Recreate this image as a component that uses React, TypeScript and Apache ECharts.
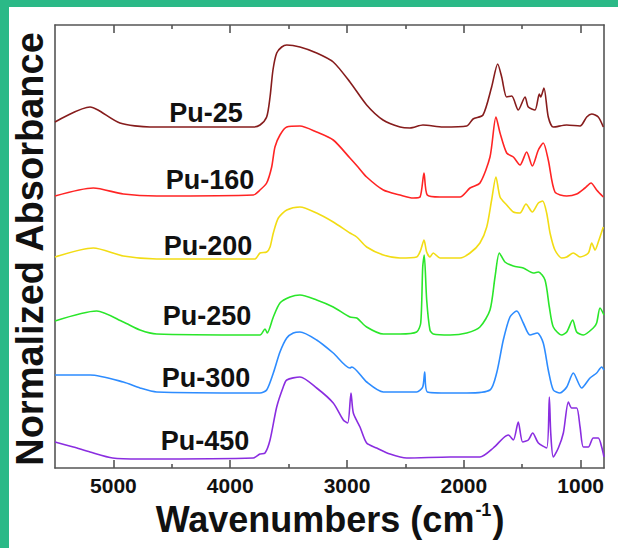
import React, { useEffect, useRef } from "react";
import * as echarts from "echarts";

// Wavenumber (cm^-1) vs normalized absorbance (offset, arbitrary units)
const pu25: number[][] = [
  [5500, 3.46], [5200, 3.61], [5132, 3.58], [4944, 3.45], [4687, 3.41], [3805, 3.41], [3745, 3.43],
  [3688, 3.51], [3659, 3.71], [3634, 3.98], [3602, 4.15], [3559, 4.21], [3516, 4.23], [3403, 4.21],
  [3260, 4.15], [3118, 4.06], [2975, 3.86], [2832, 3.63], [2692, 3.48], [2546, 3.41], [2461, 3.40],
  [2350, 3.43], [2178, 3.41], [1975, 3.42], [1921, 3.49], [1836, 3.53], [1762, 3.81], [1710, 4.04],
  [1676, 3.91], [1633, 3.71], [1590, 3.72], [1534, 3.58], [1476, 3.71], [1448, 3.61], [1391, 3.58],
  [1354, 3.74], [1342, 3.71], [1314, 3.80], [1277, 3.51], [1234, 3.41], [1119, 3.43], [1005, 3.42],
  [948, 3.51], [905, 3.54], [849, 3.51], [806, 3.41],
];
const pu160: number[][] = [
  [5500, 2.72], [5172, 2.80], [4915, 2.74], [4629, 2.72], [3802, 2.73], [3745, 2.78], [3688, 2.85],
  [3645, 3.01], [3617, 3.21], [3574, 3.33], [3516, 3.41], [3403, 3.42], [3260, 3.36], [3118, 3.28],
  [2975, 3.10], [2906, 3.01], [2832, 2.91], [2689, 2.78], [2546, 2.73], [2433, 2.70], [2375, 2.71],
  [2341, 2.95], [2313, 2.73], [2204, 2.71], [2033, 2.71], [1947, 2.80], [1862, 2.85], [1776, 3.11],
  [1725, 3.51], [1690, 3.35], [1633, 3.15], [1576, 3.11], [1519, 3.03], [1462, 3.16], [1414, 3.02],
  [1362, 3.18], [1320, 3.25], [1277, 3.08], [1220, 2.76], [1119, 2.72], [1034, 2.74], [963, 2.80],
  [911, 2.85], [863, 2.78], [806, 2.71],
];
const pu200: number[][] = [
  [5500, 2.11], [5172, 2.20], [4915, 2.12], [4629, 2.09], [3788, 2.09], [3745, 2.15], [3688, 2.16],
  [3659, 2.21], [3631, 2.35], [3588, 2.50], [3516, 2.58], [3403, 2.61], [3260, 2.55], [3118, 2.46],
  [2975, 2.35], [2917, 2.31], [2832, 2.21], [2689, 2.13], [2546, 2.10], [2404, 2.11], [2369, 2.18],
  [2341, 2.28], [2318, 2.16], [2290, 2.11], [2262, 2.15], [2204, 2.10], [2033, 2.10], [1947, 2.15],
  [1862, 2.25], [1804, 2.41], [1762, 2.68], [1725, 2.91], [1690, 2.71], [1633, 2.63], [1576, 2.56],
  [1519, 2.55], [1468, 2.64], [1414, 2.56], [1362, 2.65], [1325, 2.67], [1291, 2.55], [1262, 2.35],
  [1220, 2.18], [1162, 2.10], [1119, 2.11], [1063, 2.15], [1005, 2.11], [934, 2.15], [905, 2.25],
  [877, 2.18], [849, 2.26], [806, 2.41],
];
const pu250: number[][] = [
  [5500, 1.47], [5143, 1.57], [4915, 1.46], [4772, 1.38], [4629, 1.34], [3745, 1.33], [3702, 1.39],
  [3683, 1.35], [3631, 1.51], [3574, 1.65], [3488, 1.71], [3403, 1.73], [3260, 1.68], [3118, 1.61],
  [2975, 1.51], [2917, 1.50], [2832, 1.41], [2689, 1.34], [2546, 1.34], [2404, 1.36], [2369, 1.45],
  [2352, 2.01], [2339, 2.13], [2318, 1.68], [2290, 1.38], [2262, 1.34], [2118, 1.33], [1975, 1.35],
  [1862, 1.41], [1776, 1.58], [1733, 1.91], [1696, 2.15], [1648, 2.06], [1576, 2.02], [1491, 2.00],
  [1405, 1.95], [1362, 1.96], [1305, 1.88], [1268, 1.61], [1234, 1.41], [1162, 1.33], [1119, 1.36],
  [1068, 1.48], [1034, 1.36], [977, 1.33], [892, 1.40], [863, 1.45], [834, 1.60], [800, 1.53],
];
const pu300: number[][] = [
  [5500, 0.93], [5200, 0.93], [4915, 0.86], [4772, 0.80], [4629, 0.76], [3745, 0.75], [3688, 0.78],
  [3631, 0.95], [3574, 1.16], [3516, 1.30], [3460, 1.35], [3403, 1.36], [3260, 1.28], [3118, 1.15],
  [2975, 1.00], [2960, 1.01], [2832, 0.86], [2689, 0.76], [2404, 0.76], [2352, 0.81], [2335, 0.96],
  [2313, 0.76], [2118, 0.75], [1975, 0.75], [1776, 0.78], [1719, 0.95], [1662, 1.28], [1605, 1.51],
  [1547, 1.57], [1491, 1.45], [1434, 1.33], [1371, 1.35], [1320, 1.25], [1277, 0.98], [1234, 0.78],
  [1177, 0.75], [1119, 0.81], [1063, 0.95], [991, 0.80], [920, 0.90], [863, 0.95], [820, 1.01],
  [800, 0.98],
];
const pu450: number[][] = [
  [5500, 0.26], [5343, 0.21], [5200, 0.16], [5006, 0.10], [4772, 0.09], [3802, 0.10], [3745, 0.14],
  [3702, 0.15], [3659, 0.28], [3602, 0.61], [3546, 0.81], [3516, 0.88], [3403, 0.91], [3260, 0.80],
  [3118, 0.65], [3032, 0.48], [2994, 0.45], [2966, 0.75], [2946, 0.55], [2889, 0.41], [2832, 0.25],
  [2746, 0.20], [2632, 0.14], [2489, 0.10], [2118, 0.11], [1862, 0.11], [1748, 0.20], [1662, 0.30],
  [1619, 0.33], [1576, 0.28], [1534, 0.46], [1496, 0.26], [1448, 0.28], [1411, 0.35], [1362, 0.25],
  [1291, 0.20], [1268, 0.71], [1256, 0.35], [1234, 0.11], [1191, 0.20], [1148, 0.35], [1105, 0.66],
  [1077, 0.60], [1034, 0.60], [1005, 0.41], [977, 0.21], [934, 0.21], [892, 0.30], [849, 0.30],
  [820, 0.21], [800, 0.11],
];

const seriesNames = ["Pu-25", "Pu-160", "Pu-200", "Pu-250", "Pu-300", "Pu-450"];
const seriesData = [pu25, pu160, pu200, pu250, pu300, pu450];
const majorTicks = [1000, 2000, 3000, 4000, 5000];
const minorTicks = [1500, 2500, 3500, 4500];

const colors = ["#861c1c", "#ff2424", "#f2dc14", "#2ae62a", "#2d8cff", "#8a2de0"];
const labelPos = [
  [206, 113],
  [210, 180],
  [208, 246],
  [207, 316],
  [206, 378],
  [205, 441],
];
const FONT = "'Liberation Sans', Arial, Helvetica, sans-serif";
const AXIS_COLOR = "#555";

export default function App() {
  const ref = useRef<HTMLDivElement>(null);
  useEffect(() => {
    if (!ref.current) return;
    const chart = echarts.init(ref.current, null, { renderer: "svg" });
    const baseX = {
      type: "value" as const,
      min: 800,
      max: 5500,
      inverse: true,
      splitLine: { show: false },
    };
    const option: any = {
      animation: false,
      backgroundColor: "#ffffff",
      grid: { left: 55, right: 14, top: 25, bottom: 80 },
      xAxis: [
        {
          ...baseX,
          position: "bottom",
          axisLine: { show: true, lineStyle: { color: AXIS_COLOR, width: 1.6 } },
          axisTick: {
            show: true,
            inside: true,
            length: 8,
            customValues: majorTicks,
            lineStyle: { color: AXIS_COLOR, width: 1.6 },
          },
          axisLabel: {
            customValues: majorTicks,
            formatter: (v: number) => String(v),
            fontSize: 21,
            fontWeight: "bold",
            fontFamily: FONT,
            color: "#111",
            margin: 7,
          },
        },
        {
          ...baseX,
          position: "bottom",
          axisLine: { show: false },
          axisTick: {
            show: true,
            inside: true,
            length: 4,
            customValues: minorTicks,
            lineStyle: { color: AXIS_COLOR, width: 1.6 },
          },
          axisLabel: { show: false },
        },
        {
          ...baseX,
          position: "top",
          axisLine: { show: true, lineStyle: { color: AXIS_COLOR, width: 1.6 } },
          axisTick: {
            show: true,
            inside: true,
            length: 8,
            customValues: majorTicks,
            lineStyle: { color: AXIS_COLOR, width: 1.6 },
          },
          axisLabel: { show: false },
        },
        {
          ...baseX,
          position: "top",
          axisLine: { show: false },
          axisTick: {
            show: true,
            inside: true,
            length: 4,
            customValues: minorTicks,
            lineStyle: { color: AXIS_COLOR, width: 1.6 },
          },
          axisLabel: { show: false },
        },
      ],
      yAxis: [
        {
          type: "value",
          min: 0,
          max: 4.43,
          position: "left",
          axisLine: { show: true, lineStyle: { color: AXIS_COLOR, width: 1.6 } },
          axisTick: { show: false },
          axisLabel: { show: false },
          splitLine: { show: false },
        },
        {
          type: "value",
          min: 0,
          max: 4.43,
          position: "right",
          axisLine: { show: true, lineStyle: { color: AXIS_COLOR, width: 1.6 } },
          axisTick: { show: false },
          axisLabel: { show: false },
          splitLine: { show: false },
        },
      ],
      series: seriesData.map((d, i) => ({
        name: seriesNames[i],
        type: "line",
        xAxisIndex: 0,
        yAxisIndex: 0,
        data: d,
        showSymbol: false,
        smooth: 0.25,
        lineStyle: { color: colors[i], width: 1.6 },
        itemStyle: { color: colors[i] },
        z: 3,
      })),
      graphic: [
        { type: "rect", shape: { x: 0, y: 0, width: 618, height: 7 }, style: { fill: "#2bb987" }, z: 10 },
        { type: "rect", shape: { x: 0, y: 0, width: 9, height: 548 }, style: { fill: "#2bb987" }, z: 10 },
        ...seriesNames.map((n, i) => ({
          type: "text",
          x: labelPos[i][0],
          y: labelPos[i][1],
          z: 20,
          style: {
            text: n,
            fontSize: 27,
            fontWeight: "bold",
            fontFamily: FONT,
            fill: "#111",
            textAlign: "center",
            textVerticalAlign: "middle",
          },
        })),
        {
          type: "text",
          x: 30,
          y: 249,
          rotation: Math.PI / 2,
          z: 20,
          style: {
            text: "Normalized Absorbance",
            fontSize: 38,
            fontWeight: "bold",
            fontFamily: FONT,
            fill: "#111",
            textAlign: "center",
            textVerticalAlign: "middle",
          },
        },
        {
          type: "text",
          x: 330,
          y: 519,
          z: 20,
          style: {
            text: "Wavenumbers (cm{sup|-1})",
            fontSize: 36,
            fontWeight: "bold",
            fontFamily: FONT,
            fill: "#111",
            textAlign: "center",
            textVerticalAlign: "middle",
            rich: {
              sup: {
                fontSize: 18,
                fontWeight: "bold",
                fontFamily: FONT,
                fill: "#111",
                verticalAlign: "top",
                padding: [0, 1, 14, 1],
              },
            },
          },
        },
      ],
    };
    chart.setOption(option);
    return () => chart.dispose();
  }, []);
  return (
    <div style={{ position: "fixed", left: 0, top: 0, width: 618, height: 548, background: "#fff" }}>
      <div ref={ref} style={{ width: 618, height: 548 }} />
    </div>
  );
}
